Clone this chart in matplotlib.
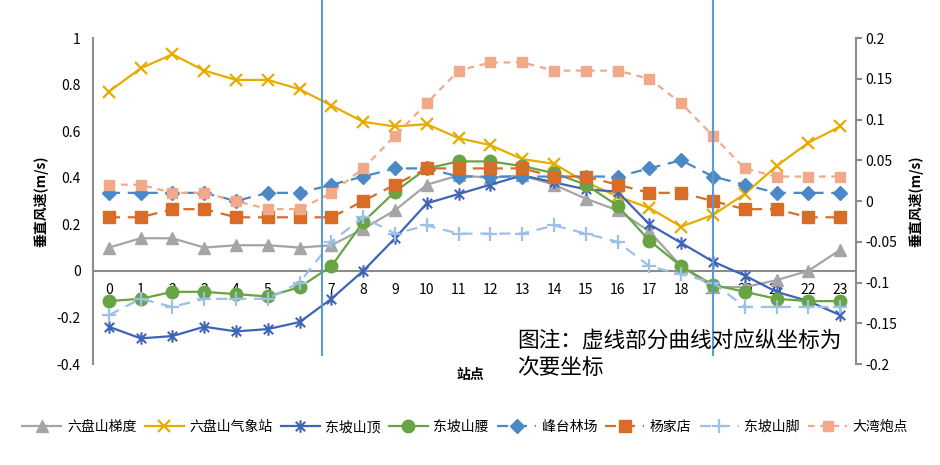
import matplotlib.pyplot as plt
from matplotlib.path import Path
import numpy as np

plt.rcParams['font.family'] = ['Noto Sans CJK SC', 'DejaVu Sans']

# 站点 0..23
stations = list(range(24))

# 主坐标轴 (实线)
liupan_grad = [0.10, 0.14, 0.14, 0.10, 0.11, 0.11, 0.10, 0.11, 0.18, 0.26, 0.37, 0.41,
               0.40, 0.41, 0.37, 0.31, 0.26, 0.17, 0.02, -0.07, -0.07, -0.04, 0.00, 0.09]
liupan_met = [0.77, 0.87, 0.93, 0.86, 0.82, 0.82, 0.78, 0.71, 0.64, 0.62, 0.63, 0.57,
              0.54, 0.48, 0.46, 0.38, 0.32, 0.27, 0.19, 0.24, 0.33, 0.45, 0.55, 0.62]
dongpo_top = [-0.24, -0.29, -0.28, -0.24, -0.26, -0.25, -0.22, -0.12, 0.00, 0.14, 0.29, 0.33,
              0.37, 0.41, 0.38, 0.35, 0.34, 0.20, 0.12, 0.04, -0.02, -0.09, -0.13, -0.19]
dongpo_mid = [-0.13, -0.12, -0.09, -0.09, -0.10, -0.11, -0.07, 0.02, 0.21, 0.34, 0.44, 0.47,
              0.47, 0.45, 0.42, 0.37, 0.28, 0.13, 0.02, -0.06, -0.09, -0.12, -0.13, -0.13]

# 次坐标轴 (虚线)
fengtai = [0.01, 0.01, 0.01, 0.01, 0.00, 0.01, 0.01, 0.02, 0.03, 0.04, 0.04, 0.03,
           0.03, 0.03, 0.03, 0.03, 0.03, 0.04, 0.05, 0.03, 0.02, 0.01, 0.01, 0.01]
yangjia = [-0.02, -0.02, -0.01, -0.01, -0.02, -0.02, -0.02, -0.02, 0.00, 0.02, 0.04, 0.04,
           0.04, 0.04, 0.03, 0.03, 0.02, 0.01, 0.01, 0.00, -0.01, -0.01, -0.02, -0.02]
dongpo_foot = [-0.14, -0.12, -0.13, -0.12, -0.12, -0.12, -0.10, -0.05, -0.02, -0.04, -0.03, -0.04,
               -0.04, -0.04, -0.03, -0.04, -0.05, -0.08, -0.09, -0.10, -0.13, -0.13, -0.13, -0.13]
dawan = [0.02, 0.02, 0.01, 0.01, 0.00, -0.01, -0.01, 0.01, 0.04, 0.08, 0.12, 0.16,
         0.17, 0.17, 0.16, 0.16, 0.16, 0.15, 0.12, 0.08, 0.04, 0.03, 0.03, 0.03]

left_ticks = [-0.4, -0.2, 0, 0.2, 0.4, 0.6, 0.8, 1]
left_labels = ['-0.4', '-0.2', '0', '0.2', '0.4', '0.6', '0.8', '1']
right_ticks = [-0.2, -0.15, -0.1, -0.05, 0, 0.05, 0.1, 0.15, 0.2]
right_labels = ['-0.2', '-0.15', '-0.1', '-0.05', '0', '0.05', '0.1', '0.15', '0.2']

vline_x = [6.7, 19]

# 星号标记 (竖线 + x)
star = Path([(0, -1), (0, 1), (-0.75, -0.75), (0.75, 0.75), (-0.75, 0.75), (0.75, -0.75)],
            [Path.MOVETO, Path.LINETO] * 3)

fig = plt.figure(figsize=(9.4, 4.65), dpi=100)
ax = fig.add_axes([93 / 940, 1 - 364 / 465, (856 - 93) / 940, (364 - 38) / 465])
ax2 = ax.twinx()

axis_gray = '#8c8c8c'

ax.plot(stations, liupan_grad, color='#a5a5a5', lw=1.6, marker='^', ms=8, label='六盘山梯度', zorder=3)
ax.plot(stations, liupan_met, color='#e6ac00', lw=1.6, marker='x', ms=9, mew=1.6, label='六盘山气象站', zorder=3)
ax.plot(stations, dongpo_top, color='#3d64b8', lw=1.6, marker=star, ms=9, mew=1.5, label='东坡山顶', zorder=3)
ax.plot(stations, dongpo_mid, color='#68a444', lw=1.6, marker='o', ms=9, label='东坡山腰', zorder=3)

ax2.plot(stations, fengtai, color='#4a88c6', lw=1.6, ls=(0, (5, 3.5)), marker='D', ms=7, label='峰台林场')
ax2.plot(stations, yangjia, color='#d96d27', lw=1.6, ls=(0, (5, 3.5)), marker='s', ms=9, label='杨家店')
ax2.plot(stations, dongpo_foot, color='#9dc0e6', lw=1.6, ls=(0, (5, 3.5)), marker='+', ms=10, mew=1.6, label='东坡山脚')
ax2.plot(stations, dawan, color='#f2a98a', lw=1.6, ls=(0, (3, 2.5)), marker='s', ms=7.5, label='大湾炮点')

ax.set_xlim(-0.5, 23.5)
ax.set_ylim(-0.4, 1)
ax2.set_ylim(-0.2, 0.2)

ax.set_xticks(stations)
ax.set_xticklabels([str(s) for s in stations])
ax.set_yticks(left_ticks)
ax.set_yticklabels(left_labels)
ax2.set_yticks(right_ticks)
ax2.set_yticklabels(right_labels)

ax.tick_params(axis='x', length=0, pad=9, labelsize=10)
ax.tick_params(axis='y', length=0, pad=9, labelsize=10)
ax2.tick_params(axis='y', length=4, width=1.5, color=axis_gray, pad=3, labelsize=10)

for s in ['top', 'right']:
    ax.spines[s].set_visible(False)
ax.spines['left'].set_color(axis_gray)
ax.spines['left'].set_linewidth(1.5)
ax.spines['bottom'].set_position(('data', 0))
ax.spines['bottom'].set_color(axis_gray)
ax.spines['bottom'].set_linewidth(1.5)
for s in ['top', 'left', 'bottom']:
    ax2.spines[s].set_visible(False)
ax2.spines['right'].set_color(axis_gray)
ax2.spines['right'].set_linewidth(1.5)

for xv in vline_x:
    ax2.axvline(xv, ymin=0.028, ymax=1.117, color='#5b9bd5', lw=1.5, clip_on=False, zorder=5)

ax.set_ylabel('垂直风速(m/s)', fontsize=10, fontweight='bold', labelpad=6)
ax2.set_ylabel('垂直风速(m/s)', fontsize=10, fontweight='bold', labelpad=8)
fig.text(470 / 940, 1 - 375 / 465, '站点', ha='center', va='center', fontsize=10, fontweight='bold')

fig.text(517 / 940, 1 - 330 / 465, '图注：虚线部分曲线对应纵坐标为\n次要坐标', ha='left', va='top',
         fontsize=15.6, linespacing=1.3)

h1, l1 = ax.get_legend_handles_labels()
h2, l2 = ax2.get_legend_handles_labels()
fig.legend(h1 + h2, l1 + l2, loc='center', bbox_to_anchor=(0.495, 1 - 427 / 465), ncol=8,
           frameon=False, fontsize=10, handlelength=2.8, handletextpad=0.4, columnspacing=0.6)

fig.savefig('out.png', dpi=100)
